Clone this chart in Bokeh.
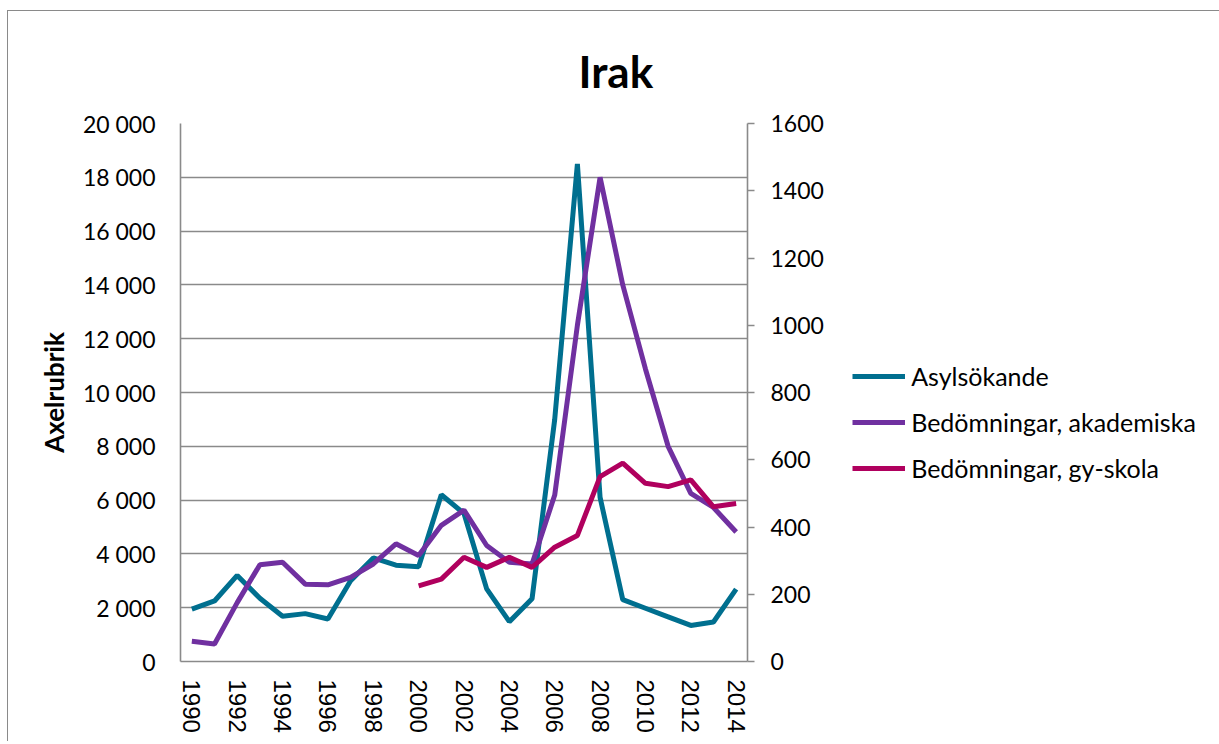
from bokeh.plotting import figure
from bokeh.models import Range1d, LinearAxis, FixedTicker, Legend, LegendItem, Title
from bokeh.embed import file_html
from bokeh.resources import INLINE

years = [1990, 1991, 1992, 1993, 1994, 1995, 1996, 1997, 1998, 1999, 2000, 2001, 2002,
         2003, 2004, 2005, 2006, 2007, 2008, 2009, 2010, 2011, 2012, 2013, 2014]
year_ticks = [1990, 1992, 1994, 1996, 1998, 2000, 2002, 2004, 2006, 2008, 2010, 2012, 2014]
asylsokande = [1950, 2250, 3200, 2350, 1680, 1780, 1580, 3000, 3850, 3580, 3520, 6200,
               5500, 2700, 1480, 2330, 9000, 18500, 6100, 2300, 1980, 1660, 1340, 1470, 2690]
akademiska = [60, 52, 175, 288, 295, 230, 228, 250, 290, 350, 315, 405, 450, 345, 295,
              290, 495, 1000, 1440, 1120, 870, 640, 500, 458, 385]
gy_years = [2000, 2001, 2002, 2003, 2004, 2005, 2006, 2007, 2008, 2009, 2010, 2011,
            2012, 2013, 2014]
gy_skola = [225, 245, 310, 280, 310, 280, 340, 375, 550, 590, 530, 520, 540, 460, 470]
left_ticks = [0, 2000, 4000, 6000, 8000, 10000, 12000, 14000, 16000, 18000, 20000]
right_ticks = [0, 200, 400, 600, 800, 1000, 1200, 1400, 1600]

names = ["Asylsökande", "Bedömningar, akademiska", "Bedömningar, gy-skola"]
colors = ["#006F8F", "#7030A0", "#B0005E"]

GRID = "#8a8a8a"
FONT = "Lato"

p = figure(frame_width=567, frame_height=538, x_range=Range1d(1989.5, 2014.5),
           y_range=Range1d(0, 20000), output_backend="svg", toolbar_location=None,
           min_border_left=172, min_border_right=0, min_border_top=112,
           min_border_bottom=80)
p.extra_y_ranges = {"right": Range1d(0, 1600)}
p.outline_line_color = None
p.margin = (10, 0, 0, 7)
p.styles = {"border-left": "1px solid #8a8a8a", "border-top": "1px solid #8a8a8a"}

p.title = Title(text="Irak", align="left", offset=398, standoff=54,
                text_font=FONT, text_font_size="44px", text_font_style="bold",
                text_color="black")

r1 = p.line(years, asylsokande, line_color=colors[0], line_width=5)
r2 = p.line(years, akademiska, line_color=colors[1], line_width=5, y_range_name="right")
r3 = p.line(gy_years, gy_skola, line_color=colors[2], line_width=5, y_range_name="right")

# grid
p.xgrid.visible = False
p.ygrid.ticker = FixedTicker(ticks=left_ticks)
p.ygrid.grid_line_color = GRID
p.ygrid.grid_line_width = 1.6

# left axis
ya = p.yaxis[0]
ya.ticker = FixedTicker(ticks=left_ticks)
ya.major_label_overrides = {t: f"{t:,}".replace(",", " ") for t in left_ticks}
ya.major_tick_out = 0
ya.major_tick_in = 0
ya.minor_tick_out = 0
ya.minor_tick_in = 0
ya.axis_line_color = GRID
ya.axis_line_width = 1.6
ya.major_label_standoff = 25
ya.major_label_text_font = FONT
ya.major_label_text_font_size = "23px"
ya.major_label_text_color = "black"
ya.axis_label = "Axelrubrik"
ya.axis_label_text_font = FONT
ya.axis_label_text_font_size = "26px"
ya.axis_label_text_font_style = "bold"
ya.axis_label_text_color = "black"
ya.axis_label_standoff = 10

# right axis
ra = LinearAxis(y_range_name="right", ticker=FixedTicker(ticks=right_ticks))
ra.major_tick_out = 7
ra.major_tick_in = 0
ra.minor_tick_out = 0
ra.minor_tick_in = 0
ra.major_tick_line_color = GRID
ra.major_tick_line_width = 1.6
ra.axis_line_color = GRID
ra.axis_line_width = 1.6
ra.major_label_standoff = 16
ra.major_label_text_font = FONT
ra.major_label_text_font_size = "23px"
ra.major_label_text_color = "black"
p.add_layout(ra, "right")

# bottom axis
xa = p.xaxis[0]
xa.ticker = FixedTicker(ticks=year_ticks)
xa.major_label_overrides = {t: str(t) for t in year_ticks}
xa.major_tick_out = 0
xa.major_tick_in = 0
xa.minor_tick_out = 0
xa.minor_tick_in = 0
xa.axis_line_color = GRID
xa.axis_line_width = 1.6
xa.major_label_orientation = "vertical"
xa.major_label_standoff = 18
xa.major_label_text_font = "Liberation Sans"
xa.major_label_text_font_size = "24px"
xa.major_label_text_color = "black"

legend = Legend(items=[LegendItem(label=names[0], renderers=[r1]),
                       LegendItem(label=names[1], renderers=[r2]),
                       LegendItem(label=names[2], renderers=[r3])],
                location=(-198, 178), border_line_color=None, background_fill_alpha=0,
                padding=0, margin=0, spacing=16, glyph_width=53, glyph_height=24,
                label_height=24, label_standoff=6, label_text_font=FONT,
                label_text_font_size="25px", label_text_color="black")
p.add_layout(legend, "right")

open("out.html", "w").write(file_html(p, INLINE))
